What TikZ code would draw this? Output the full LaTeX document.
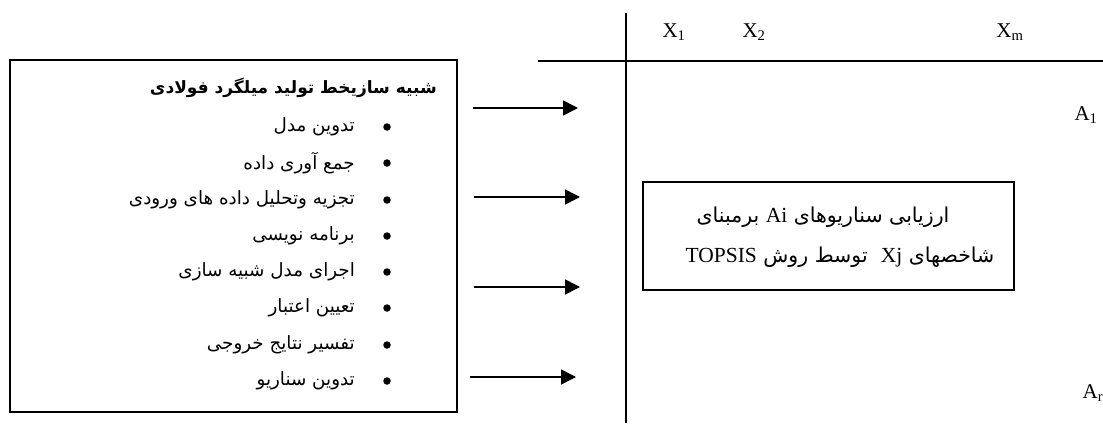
\documentclass[tikz,border=0pt]{standalone}
\usepackage{fontspec}
\setmainfont{Liberation Serif}
\newfontfamily\arabicfont[Script=Arabic]{DejaVu Sans}
\TeXXeTstate=1
\usetikzlibrary{arrows.meta}

\begin{document}
\begin{tikzpicture}[x=1pt, y=-1pt,
    box/.style = {draw, line width=1.3pt, inner sep=0pt},
    item/.style = {anchor=east, inner sep=0pt, font=\arabicfont\fontsize{18.3}{22}\selectfont},
    dot/.style = {circle, fill, inner sep=0pt, minimum size=7.5pt},
    lbl/.style = {inner sep=0pt, font=\fontsize{21}{25}\selectfont},
    midtext/.style = {inner sep=0pt, font=\arabicfont\fontsize{20.5}{24}\selectfont},
    feed/.style = {line width=1.6pt, -{Triangle[length=15pt, width=15pt]}}]
  \useasboundingbox (0,0) rectangle (1103,423);

  % simulation box
  \node[box, minimum width=447pt, minimum height=352pt] (sim) at (233.5,236) {};
  \node[item, font=\arabicfont\bfseries\fontsize{17}{20}\selectfont] (title) at (437,88) {\beginR شبیه سازیخط تولید میلگرد فولادی\endR};
  \node[dot] (d1) at (387,127) {};
  \node[item] (i1) at (355,127) {\beginR تدوین مدل\endR};
  \node[dot] (d2) at (387,163) {};
  \node[item] (i2) at (355,163) {\beginR جمع آوری داده\endR};
  \node[dot] (d3) at (387,200) {};
  \node[item] (i3) at (355,200) {\beginR تجزیه وتحلیل داده های ورودی\endR};
  \node[dot] (d4) at (387,236) {};
  \node[item] (i4) at (355,236) {\beginR برنامه نویسی\endR};
  \node[dot] (d5) at (387,272) {};
  \node[item] (i5) at (355,272) {\beginR اجرای مدل شبیه سازی\endR};
  \node[dot] (d6) at (387,308) {};
  \node[item] (i6) at (355,308) {\beginR تعیین اعتبار\endR};
  \node[dot] (d7) at (387,345) {};
  \node[item] (i7) at (355,345) {\beginR تفسیر نتایج خروجی\endR};
  \node[dot] (d8) at (387,381) {};
  \node[item] (i8) at (355,381) {\beginR تدوین سناریو\endR};

  % decision matrix
  \coordinate (vtop) at (626,13);
  \coordinate (vbot) at (626,423);
  \coordinate (hleft) at (538,61);
  \coordinate (hright) at (1103,61);
  \draw[line width=1.3pt] (vtop) -- (vbot);
  \draw[line width=1.3pt] (hleft) -- (hright);
  \node[lbl] (x1) at (674,32) {X\textsubscript{1}};
  \node[lbl] (x2) at (754,32) {X\textsubscript{2}};
  \node[lbl] (xm) at (1010,32) {X\textsubscript{m}};
  \node[lbl] (a1) at (1086,115) {A\textsubscript{1}};
  \node[lbl] (ar) at (1093,393) {A\textsubscript{r}};

  \node[box, minimum width=371pt, minimum height=108pt] (eval) at (828.5,236) {};
  \node[midtext] (e1) at (823,217) {\beginR ارزیابی سناریوهای {\rmfamily\fontsize{21.5}{24}\selectfont\beginL Ai\endL} برمبنای\endR};
  \node[midtext] (e2) at (840,257) {\beginR شاخصهای {\rmfamily\fontsize{21.5}{24}\selectfont\beginL Xj\endL}\ \ توسط روش {\rmfamily\fontsize{21.5}{24}\selectfont\beginL TOPSIS\endL}\endR};

  % arrows
  \coordinate (s1) at (473,108);
  \coordinate (t1) at (578,108);
  \coordinate (s2) at (474,197);
  \coordinate (t2) at (580,197);
  \coordinate (s3) at (474,287);
  \coordinate (t3) at (580,287);
  \coordinate (s4) at (470,377);
  \coordinate (t4) at (576,377);
  \draw[feed] (s1) -- (t1);
  \draw[feed] (s2) -- (t2);
  \draw[feed] (s3) -- (t3);
  \draw[feed] (s4) -- (t4);
\end{tikzpicture}
\end{document}
